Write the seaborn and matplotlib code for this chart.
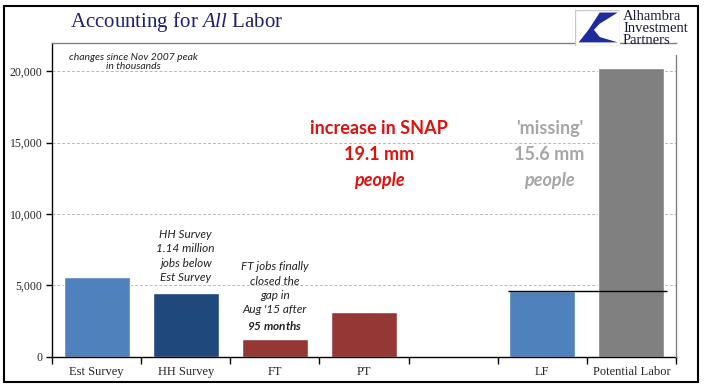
import numpy as np
import pandas as pd
import matplotlib
matplotlib.use("Agg")
import matplotlib.pyplot as plt
from matplotlib.patches import Rectangle, Polygon
import seaborn as sns

categories = ["Est Survey", "HH Survey", "FT", "PT", " ", "LF", "Potential Labor"]
values = [5580, 4440, 1240, 3130, 0, 4620, 20220]
bar_colors = ["#4F81BD", "#1F497D", "#953735", "#953735", "#FFFFFF", "#4F81BD", "#808080"]
y_ticks = [0, 5000, 10000, 15000, 20000]
y_tick_labels = ["0", "5,000", "10,000", "15,000", "20,000"]

sns.set_theme(style="white")
plt.rcParams["font.family"] = ["Lato", "DejaVu Sans"]
plt.rcParams["mathtext.fontset"] = "custom"
plt.rcParams["mathtext.it"] = "Liberation Serif:italic"
plt.rcParams["mathtext.rm"] = "Liberation Serif"
plt.rcParams["mathtext.bf"] = "Lato:italic:bold"

df = pd.DataFrame({"cat": categories, "val": values})

fig = plt.figure(figsize=(7.05, 3.92), dpi=100)
W, H = 705, 392
ax = fig.add_axes([52 / W, (H - 356.7) / H, (676 - 52) / W, (356.7 - 43) / H])

sns.barplot(data=df, x="cat", y="val", hue="cat", palette=bar_colors,
            legend=False, width=0.74, ax=ax, saturation=1)

ax.set_xlim(-0.5, 6.5)
ax.set_ylim(0, 21970)
ax.set_xlabel("")
ax.set_ylabel("")
ax.set_yticks(y_ticks)
ax.set_yticklabels(y_tick_labels, family="Liberation Serif", fontsize=8.5)
ax.set_xticks(range(len(categories)))
ax.set_xticklabels(categories, family="Liberation Serif", fontsize=9)
ax.set_xticks(np.arange(-0.5, 7, 1), minor=True)
ax.tick_params(axis="x", which="major", length=0, pad=7)
ax.tick_params(axis="x", which="minor", length=5, width=1, color="black", direction="out", bottom=True)
ax.tick_params(axis="y", length=4, width=1, color="black", direction="out", left=True, pad=3)

for yv in y_ticks[1:]:
    ax.axhline(yv, color="#b8b8b8", lw=0.7, ls=(0, (3, 2)), zorder=0)

for side in ["left", "bottom"]:
    ax.spines[side].set_color("black")
    ax.spines[side].set_linewidth(1.0)
ax.spines["top"].set_color("#808080")
ax.spines["top"].set_linewidth(1.0)
ax.spines["right"].set_visible(False)
ax.plot([6.5, 6.5], [0, 21100], color="#808080", lw=1.0, clip_on=False, zorder=6)

# LF reference line
lf_i = categories.index("LF")
pl_i = categories.index("Potential Labor")
ax.hlines(values[lf_i], lf_i - 0.38, pl_i + 0.4, color="black", lw=1.0, zorder=5)

# annotations
ax.text(0.413, 21300, "changes since Nov 2007 peak\nin thousands", ha="center", va="top",
        fontsize=7.5, style="italic", color="#222222", linespacing=1.1)
ax.text(1.0, 7050, "HH Survey\n1.14 million\njobs below\nEst Survey", ha="center", va="center",
        fontsize=8.5, style="italic", color="#222222", linespacing=1.35)
ax.text(2.0, 4210, "FT jobs finally\nclosed the\ngap in\nAug '15 after\n$\\mathbf{95\\ months}$",
        ha="center", va="center", fontsize=8.5, style="italic", color="#222222", linespacing=1.35)

snap_y = [16000, 14180, 12360]
ax.text(3.17, snap_y[0], "increase in SNAP", ha="center", va="center", fontsize=13,
        fontweight="bold", color="#E0100F")
ax.text(3.17, snap_y[1], "19.1 mm", ha="center", va="center", fontsize=13,
        fontweight="bold", color="#E0100F")
ax.text(3.17, snap_y[2], "people", ha="center", va="center", fontsize=13,
        fontweight="bold", style="italic", color="#E0100F")
ax.text(5.08, snap_y[0], "'missing'", ha="center", va="center", fontsize=13,
        fontweight="bold", color="#A6A6A6")
ax.text(5.08, snap_y[1], "15.6 mm", ha="center", va="center", fontsize=13,
        fontweight="bold", color="#A6A6A6")
ax.text(5.08, snap_y[2], "people", ha="center", va="center", fontsize=13,
        fontweight="bold", style="italic", color="#A6A6A6")

# title
fig.text(177 / W, 1 - 22 / H, "Accounting for $\\mathit{All}$ Labor", ha="center", va="center",
         fontsize=15, family="Liberation Serif", color="#1F2170")

# logo
lax = fig.add_axes([575 / W, 1 - 46 / H, 45 / W, 36 / H])
lax.set_xlim(0, 1)
lax.set_ylim(0, 1)
lax.add_patch(Rectangle((0, 0), 1, 1, facecolor="white", edgecolor="#c8c8c8", lw=1))
lax.add_patch(Polygon([(0.55, 0.93), (0.95, 0.93), (0.55, 0.62), (0.42, 0.45),
                       (0.55, 0.25), (0.95, 0.1), (0.08, 0.1), (0.3, 0.45)],
                      closed=True, facecolor="#1F2A9C", edgecolor="none"))
lax.axis("off")
fig.text(623 / W, 1 - 29 / H, "Alhambra\nInvestment\nPartners", ha="left", va="center",
         fontsize=10.5, family="Liberation Serif", color="#1a1a3a", linespacing=0.9)

# outer frame
fig.patches.append(Rectangle((4 / W, 10.3 / H), 693.7 / W, 375.5 / H, transform=fig.transFigure,
                             fill=False, edgecolor="black", lw=1.5))

fig.savefig("out.png", dpi=100)
